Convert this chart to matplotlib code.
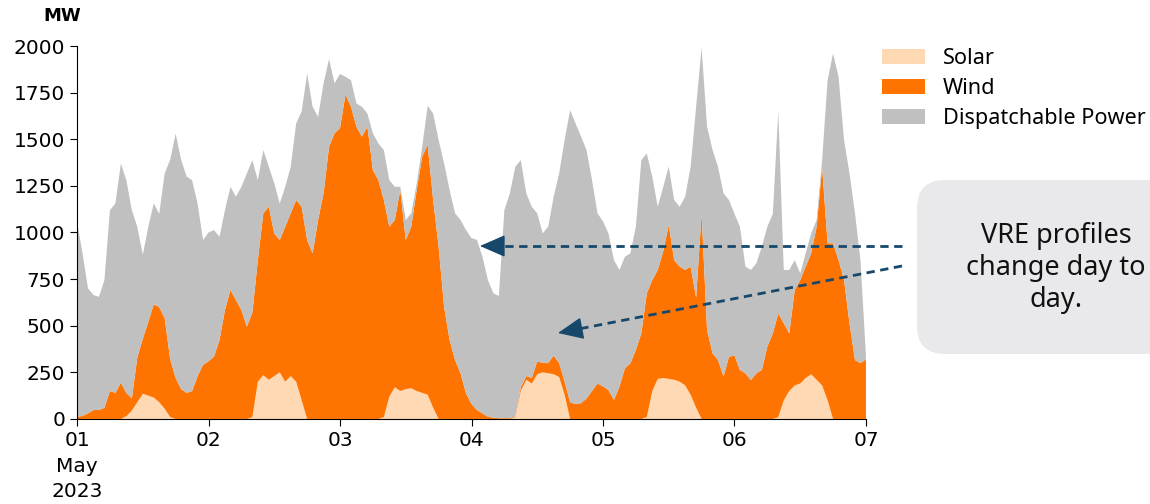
import numpy as np
import pandas as pd
import matplotlib
matplotlib.use("Agg")
import matplotlib.pyplot as plt
from matplotlib.patches import FancyBboxPatch
from matplotlib.lines import Line2D
from matplotlib.transforms import IdentityTransform

# hourly values, 2023-05-01 00:00 .. 2023-05-07 00:00 (MW)
solar = [
    0, 0, 0, 0, 0, 0, 0, 0, 0, 15, 45, 90, 135, 125, 115, 90, 55, 10, 0, 0, 0, 0, 0, 0,
    0, 0, 0, 0, 0, 0, 0, 0, 10, 200, 235, 210, 230, 250, 200, 230, 200, 100, 0, 0, 0, 0, 0, 0,
    0, 0, 0, 0, 0, 0, 0, 0, 10, 120, 170, 150, 160, 165, 150, 140, 130, 60, 0, 0, 0, 0, 0, 0,
    0, 0, 0, 0, 0, 0, 0, 0, 10, 150, 210, 190, 240, 250, 245, 240, 225, 130, 0, 0, 0, 0, 0, 0,
    0, 0, 0, 0, 0, 0, 0, 0, 10, 150, 215, 220, 215, 210, 200, 180, 130, 60, 0, 0, 0, 0, 0, 0,
    0, 0, 0, 0, 0, 0, 0, 0, 10, 100, 150, 180, 190, 220, 240, 210, 180, 100, 0, 0, 0, 0, 0, 0,
    0,
]
wind = [
    12, 16, 30, 48, 48, 60, 150, 140, 195, 125, 65, 240, 295, 395, 500, 510, 485, 310, 220, 160, 140, 150, 230, 290,
    310, 334, 424, 584, 692, 638, 584, 495, 560, 652, 868, 928, 765, 710, 831, 873, 974, 1038, 960, 888, 1067, 1210, 1460, 1532,
    1560, 1740, 1674, 1567, 1514, 1567, 1335, 1281, 1164, 911, 897, 1078, 800, 866, 1078, 1266, 1340, 1114, 924, 602, 424, 316, 245, 138,
    80, 48, 30, 12, 7, 4, 4, 4, 5, 20, 20, 30, 70, 50, 55, 100, 75, 70, 90, 80, 85, 110, 150, 190,
    175, 155, 102, 173, 272, 298, 370, 459, 664, 595, 584, 680, 825, 642, 617, 619, 687, 590, 1100, 477, 352, 316, 227, 334,
    340, 263, 245, 209, 245, 263, 388, 459, 556, 413, 309, 512, 555, 597, 648, 821, 1170, 842, 942, 852, 745, 513, 316, 300,
    320,
]
dispatchable = [
    1046, 872, 670, 617, 607, 685, 970, 1016, 1175, 1140, 1010, 700, 450, 510, 541, 500, 777, 1070, 1310, 1230, 1160, 1130, 926, 670,
    690, 679, 553, 536, 553, 554, 661, 822, 818, 429, 339, 215, 268, 196, 214, 250, 411, 512, 893, 786, 553, 590, 470, 268,
    290, 95, 143, 125, 160, 71, 197, 197, 268, 250, 178, 17, 107, 72, 35, 54, 210, 464, 572, 769, 804, 787, 822, 875,
    890, 912, 840, 733, 667, 656, 1116, 1206, 1338, 1218, 980, 918, 793, 695, 731, 852, 1017, 1296, 1566, 1505, 1429, 1332, 1131, 913,
    885, 840, 750, 626, 598, 590, 661, 929, 750, 554, 339, 345, 313, 322, 321, 393, 536, 1024, 890, 1090, 1090, 1037, 983, 840,
    760, 768, 572, 590, 590, 661, 643, 641, 1084, 286, 340, 160, 36, 71, 107, 36, 38, 875, 1018, 983, 751, 804, 787, 550,
    20,
]
series_labels = ["Solar", "Wind", "Dispatchable Power"]
tick_labels = ["01\nMay\n2023", "02", "03", "04", "05", "06", "07"]
note = "VRE profiles\nchange day to\nday."

times = pd.date_range("2023-05-01", periods=len(solar), freq="h")
days = pd.date_range("2023-05-01", "2023-05-07", freq="D")

colors = ["#FFD8B4", "#FF7400", "#C0C0C0"]
arrow_color = "#17486B"

fig = plt.figure(figsize=(11.5, 5.04), dpi=100)
ax = fig.add_axes([0.067, 0.1687, 0.686, 0.74])

ax.stackplot(times, solar, wind, dispatchable, labels=series_labels, colors=colors, lw=0)

ax.set_xlim(days[0], days[-1])
ax.set_ylim(0, 2000)
ax.set_yticks(np.arange(0, 2001, 250))
ax.set_xticks(days)
ax.set_xticklabels(tick_labels)
ax.tick_params(labelsize=14.5, length=5)
for lbl in ax.get_xticklabels():
    lbl.set_linespacing(1.45)
for s in ["top", "right"]:
    ax.spines[s].set_visible(False)

fig.text(62, 488, "MW", transform=IdentityTransform(), ha="center", va="center",
         fontsize=13, fontweight="bold")

ax.legend(loc="upper left", bbox_to_anchor=(0.7595, 0.922), bbox_transform=fig.transFigure,
          frameon=False, borderaxespad=0, labelspacing=0.42,
          prop={"family": "Noto Sans", "size": 15.6})

# callout box (pixel coords, origin bottom left)
box = FancyBboxPatch((917, 504 - 354), 280, 174, boxstyle="round,pad=0,rounding_size=28",
                     transform=IdentityTransform(), facecolor="#E9E9EB", edgecolor="none",
                     clip_on=False)
fig.patches.append(box)
fig.text(1056, 504 - 268, note, transform=IdentityTransform(), ha="center", va="center",
         fontsize=19.5, family="Noto Sans", linespacing=1.18, color="#111111")


def dashed_arrow(x0, y0, x1, y1):
    # dashed shaft + solid head, figure pixels
    d = np.hypot(x1 - x0, y1 - y0)
    ux, uy = (x1 - x0) / d, (y1 - y0) / d
    fig.add_artist(Line2D([x0, x1 - ux * 12], [y0, y1 - uy * 12], transform=IdentityTransform(),
                          ls=(0, (3, 2)), lw=2.0, color=arrow_color))
    ax.annotate("", xy=(x1, y1), xycoords="figure pixels",
                xytext=(x1 - ux * 17, y1 - uy * 17), textcoords="figure pixels",
                arrowprops=dict(arrowstyle="-|>,head_length=0.8,head_width=0.35",
                                color=arrow_color, lw=1, mutation_scale=20,
                                shrinkA=0, shrinkB=0))


dashed_arrow(902, 504 - 246, 480, 504 - 246)
dashed_arrow(902, 504 - 266, 558, 504 - 333)

fig.savefig("out.png", dpi=100)
